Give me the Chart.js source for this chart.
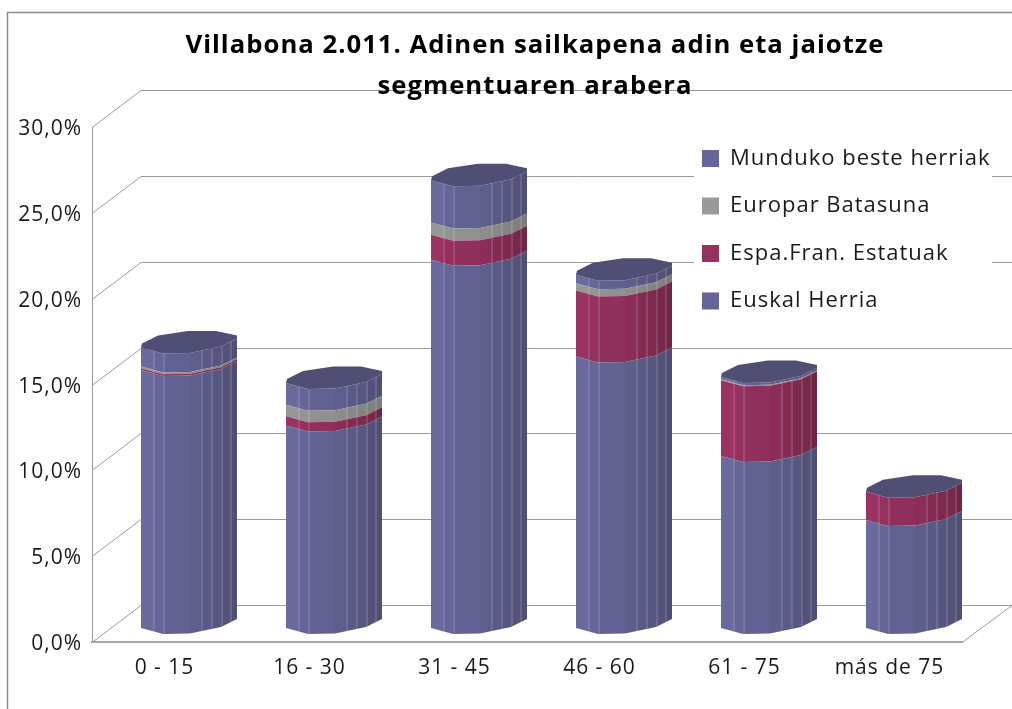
<!DOCTYPE html>
<html><head><meta charset="utf-8">
<style>html,body{margin:0;padding:0;background:#fff}#w{position:relative;width:1012px;height:709px}</style>
<script src="https://cdn.jsdelivr.net/npm/chart.js@4"></script>
</head><body><div id="w"><canvas id="c" width="1012" height="709"></canvas></div>
<script>
const categories = ['0 - 15','16 - 30','31 - 45','46 - 60','61 - 75','más de 75'];
const euskalHerria = [15.05,11.8,21.47,15.83,10.03,6.3];
const espaFran = [0.1,0.55,1.46,3.85,4.42,1.65];
const europar = [0.1,0.67,0.72,0.42,0.05,0];
const mundukoBeste = [1.1,1.27,2.45,0.5,0.14,0];
const seriesNames = ['Euskal Herria','Espa.Fran. Estatuak','Europar Batasuna','Munduko beste herriak'];
const titleLines = ['Villabona 2.011. Adinen sailkapena adin eta jaiotze','segmentuaren arabera'];

const FONT = '"Open Sans"';
const DEPTH = {x:49, y:-37};
const BAR_SHIFT = {x:24.5, y:-20};
const GRID = '#9a9a9a';
const front = [[-48,6],[-26,12],[1,11.5],[32,5],[48,-3]];
const back = [[48,-6],[27,-10.5],[-1,-10.5],[-31,-6],[-47,2]];
const facets = [0,12,22,49,60,70,80,89,96];
const stripes = [12,22,60,70,80,89];
const ramps = {
  '#65659a':['#6a6a9e','#65659a','#616192','#5e5e8c','#5a5a86','#565680','#53537a','#4f4f75'],
  '#963060':['#9a3263','#96305f','#90305c','#8b2d58','#842b53','#7e2a4f','#77284b','#702547'],
  '#999999':['#979797','#939393','#909090','#8c8c8c','#888888','#848484','#808080','#7c7c7c']
};
function facetFill(ctx,x,col){
  const g = ctx.createLinearGradient(x-48,0,x+48,0);
  const r = ramps[col];
  for(let i=0;i<r.length;i++){
    g.addColorStop(facets[i]/96,r[i]);
    g.addColorStop(facets[i+1]/96,r[i]);
  }
  return g;
}
function tracePts(ctx,pts,first){
  pts.forEach((p,i)=>{ if(first&&i===0) ctx.moveTo(p[0],p[1]); else ctx.lineTo(p[0],p[1]); });
}
function drawSegment(ctx,el,col){
  const x=el.x, yT=el.y, yB=el.base;
  if(Math.abs(yB-yT)<0.05) return;
  ctx.beginPath();
  tracePts(ctx,front.map(p=>[x+p[0],yT+p[1]]),true);
  tracePts(ctx,front.slice().reverse().map(p=>[x+p[0],yB+p[1]]),false);
  ctx.closePath();
  ctx.fillStyle=facetFill(ctx,x,col);
  ctx.fill();
  ctx.save(); ctx.clip();
  ctx.strokeStyle='rgba(255,255,255,0.28)'; ctx.lineWidth=1;
  stripes.forEach(s=>{
    const sx=Math.round(x-48+s)+0.5;
    ctx.beginPath(); ctx.moveTo(sx,yT-14); ctx.lineTo(sx,yB+14); ctx.stroke();
  });
  ctx.restore();
}
function drawCap(ctx,el){
  const x=el.x,y=el.y;
  ctx.beginPath();
  tracePts(ctx,front.map(p=>[x+p[0],y+p[1]]),true);
  tracePts(ctx,back.map(p=>[x+p[0],y+p[1]]),false);
  ctx.closePath();
  ctx.fillStyle='#4f4f75';
  ctx.fill();
}
const scene = {
  id:'scene',
  afterLayout(chart){
    const t=chart.titleBlock; t.left=58; t.right=1012;
    const l=chart.legend; l.left=676.5; l.right=1012; l.top=122; l.bottom=420;
  },
  beforeDraw(chart){
    const {ctx,chartArea:a}=chart; const y=chart.scales.y;
    ctx.letterSpacing='1px';
    ctx.save();
    ctx.strokeStyle='#8c8c8c'; ctx.lineWidth=1.5;
    ctx.beginPath(); ctx.moveTo(7.5,709); ctx.lineTo(7.5,12.5); ctx.lineTo(1012,12.5); ctx.stroke();
    ctx.strokeStyle=GRID; ctx.lineWidth=1;
    y.ticks.forEach(t=>{
      const py=Math.round(y.getPixelForValue(t.value))+0.5;
      ctx.beginPath();
      ctx.moveTo(a.left,py); ctx.lineTo(a.left+DEPTH.x,py+DEPTH.y); ctx.lineTo(a.right+50,py+DEPTH.y);
      ctx.stroke();
    });
    const b=Math.round(a.bottom)+0.5;
    ctx.beginPath(); ctx.moveTo(a.right,b); ctx.lineTo(a.right+50,b+DEPTH.y); ctx.stroke();
    ctx.fillStyle='#fff';
    ctx.fillRect(694,135,298,185);
    ctx.restore();
  },
  beforeDatasetDraw(chart,args){
    const {ctx}=chart;
    const meta=args.meta;
    const col=chart.data.datasets[args.index].backgroundColor;
    ctx.save();
    ctx.translate(BAR_SHIFT.x,BAR_SHIFT.y);
    meta.data.forEach(el=>drawSegment(ctx,el,col));
    ctx.restore();
    return false;
  },
  afterDatasetsDraw(chart){
    const {ctx}=chart;
    const n=chart.data.datasets.length;
    const topMeta=chart.getDatasetMeta(n-1);
    ctx.save();
    ctx.translate(BAR_SHIFT.x,BAR_SHIFT.y);
    topMeta.data.forEach(el=>drawCap(ctx,el));
    ctx.restore();
  }
};
new Chart(document.getElementById('c'),{
  type:'bar',
  data:{labels:categories,datasets:[
    {label:seriesNames[0],data:euskalHerria,backgroundColor:'#65659a'},
    {label:seriesNames[1],data:espaFran,backgroundColor:'#963060'},
    {label:seriesNames[2],data:europar,backgroundColor:'#999999'},
    {label:seriesNames[3],data:mundukoBeste,backgroundColor:'#65659a'}
  ]},
  plugins:[scene],
  options:{
    responsive:false,animation:false,
    layout:{padding:{left:0,right:50,top:0,bottom:0},autoPadding:false},
    datasets:{bar:{barPercentage:0.667,categoryPercentage:1}},
    scales:{
      x:{stacked:true,
        grid:{display:false},
        border:{display:true,color:'#a8a8a8',width:2},
        ticks:{color:'#1a1a1a',font:{family:FONT,size:21},padding:5,maxRotation:0,autoSkip:false},
        afterFit(s){s.height=67;}
      },
      y:{stacked:true,min:0,max:30,
        grid:{display:false},
        border:{display:true,color:GRID,width:1},
        ticks:{stepSize:5,color:'#1a1a1a',font:{family:FONT,size:21},padding:2,labelOffset:2,
          callback:v=>v.toFixed(1).replace('.',',')+'%'},
        afterFit(s){s.width=92;}
      }
    },
    plugins:{
      tooltip:{enabled:false},
      title:{display:true,text:titleLines,color:'#000',
        font:{family:FONT,size:25.7,weight:'bold',lineHeight:1.595},
        padding:{top:25.5,bottom:20}},
      legend:{position:'chartArea',align:'start',reverse:true,
        labels:{boxWidth:17,boxHeight:17,padding:25.5,color:'#1a1a1a',
          font:{family:FONT,size:22,lineHeight:1}}}
    }
  }
});
</script></body></html>
